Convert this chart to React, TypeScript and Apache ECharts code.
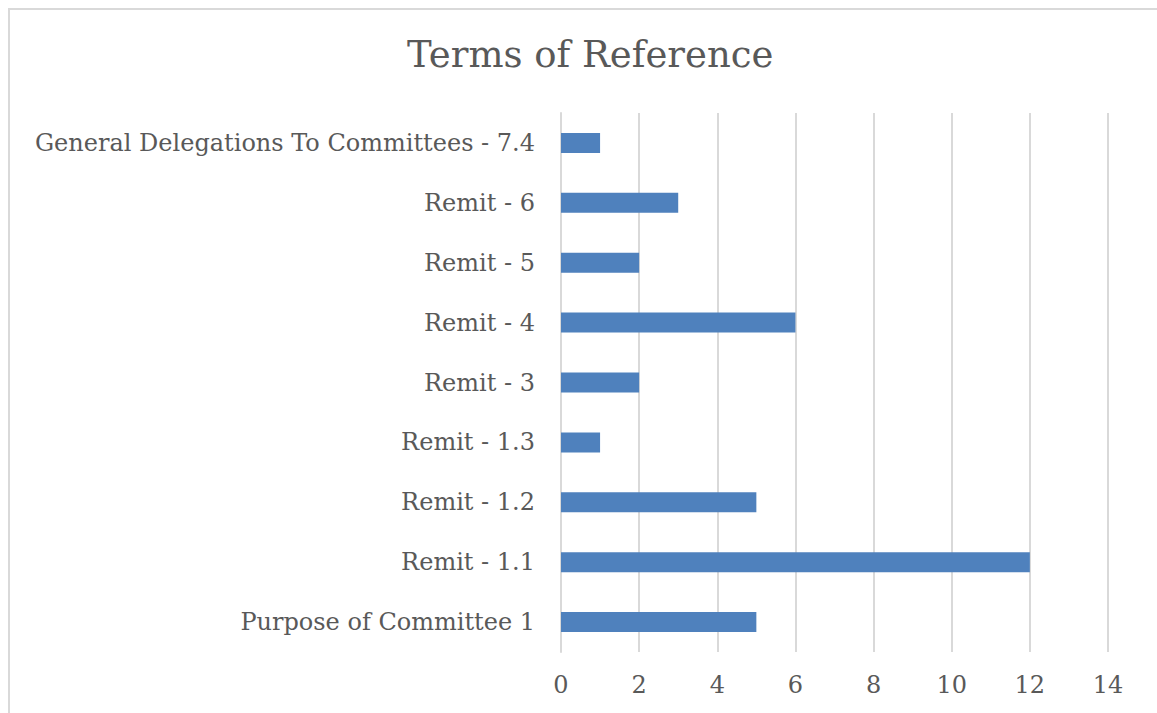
import React, { useEffect, useRef } from "react";
import * as echarts from "echarts";

const title = "Terms of Reference";
const categories = [
  "Purpose of Committee 1",
  "Remit - 1.1",
  "Remit - 1.2",
  "Remit - 1.3",
  "Remit - 3",
  "Remit - 4",
  "Remit - 5",
  "Remit - 6",
  "General Delegations To Committees - 7.4",
];
const values = [5, 12, 5, 1, 2, 6, 2, 3, 1];
const xMin = 0;
const xMax = 14;
const xInterval = 2;

const FONT = "'DejaVu Serif', serif";
const TEXT = "#595959";

export default function App() {
  const ref = useRef<HTMLDivElement>(null);
  useEffect(() => {
    const chart = echarts.init(ref.current!, null, { renderer: "svg" });
    chart.setOption({
      animation: false,
      backgroundColor: "#ffffff",
      title: {
        text: title,
        left: 402,
        top: 31,
        textStyle: { fontFamily: FONT, fontSize: 37, fontWeight: "normal", color: TEXT },
      },
      graphic: [
        {
          type: "rect",
          shape: { x: 9, y: 9, width: 1200, height: 800 },
          style: { fill: "none", stroke: "#d9d9d9", lineWidth: 2 },
        },
      ],
      grid: { left: 561, right: 49, top: 113, bottom: 61, containLabel: false },
      xAxis: {
        type: "value",
        min: xMin,
        max: xMax,
        interval: xInterval,
        axisLine: { show: false },
        axisTick: { show: false },
        splitLine: { show: true, lineStyle: { color: "#d9d9d9", width: 2 } },
        axisLabel: { color: TEXT, fontFamily: FONT, fontSize: 24, margin: 21 },
      },
      yAxis: {
        type: "category",
        data: categories,
        axisLine: { show: true, lineStyle: { color: "#d9d9d9", width: 2 } },
        axisTick: { show: false },
        axisLabel: { color: TEXT, fontFamily: FONT, fontSize: 24, margin: 26 },
      },
      series: [
        {
          type: "bar",
          data: values,
          barWidth: 20,
          itemStyle: { color: "#4F81BD" },
        },
      ],
    });
    return () => chart.dispose();
  }, []);
  return (
    <div
      ref={ref}
      style={{ position: "fixed", left: 0, top: 0, width: 1157, height: 713 }}
    />
  );
}
